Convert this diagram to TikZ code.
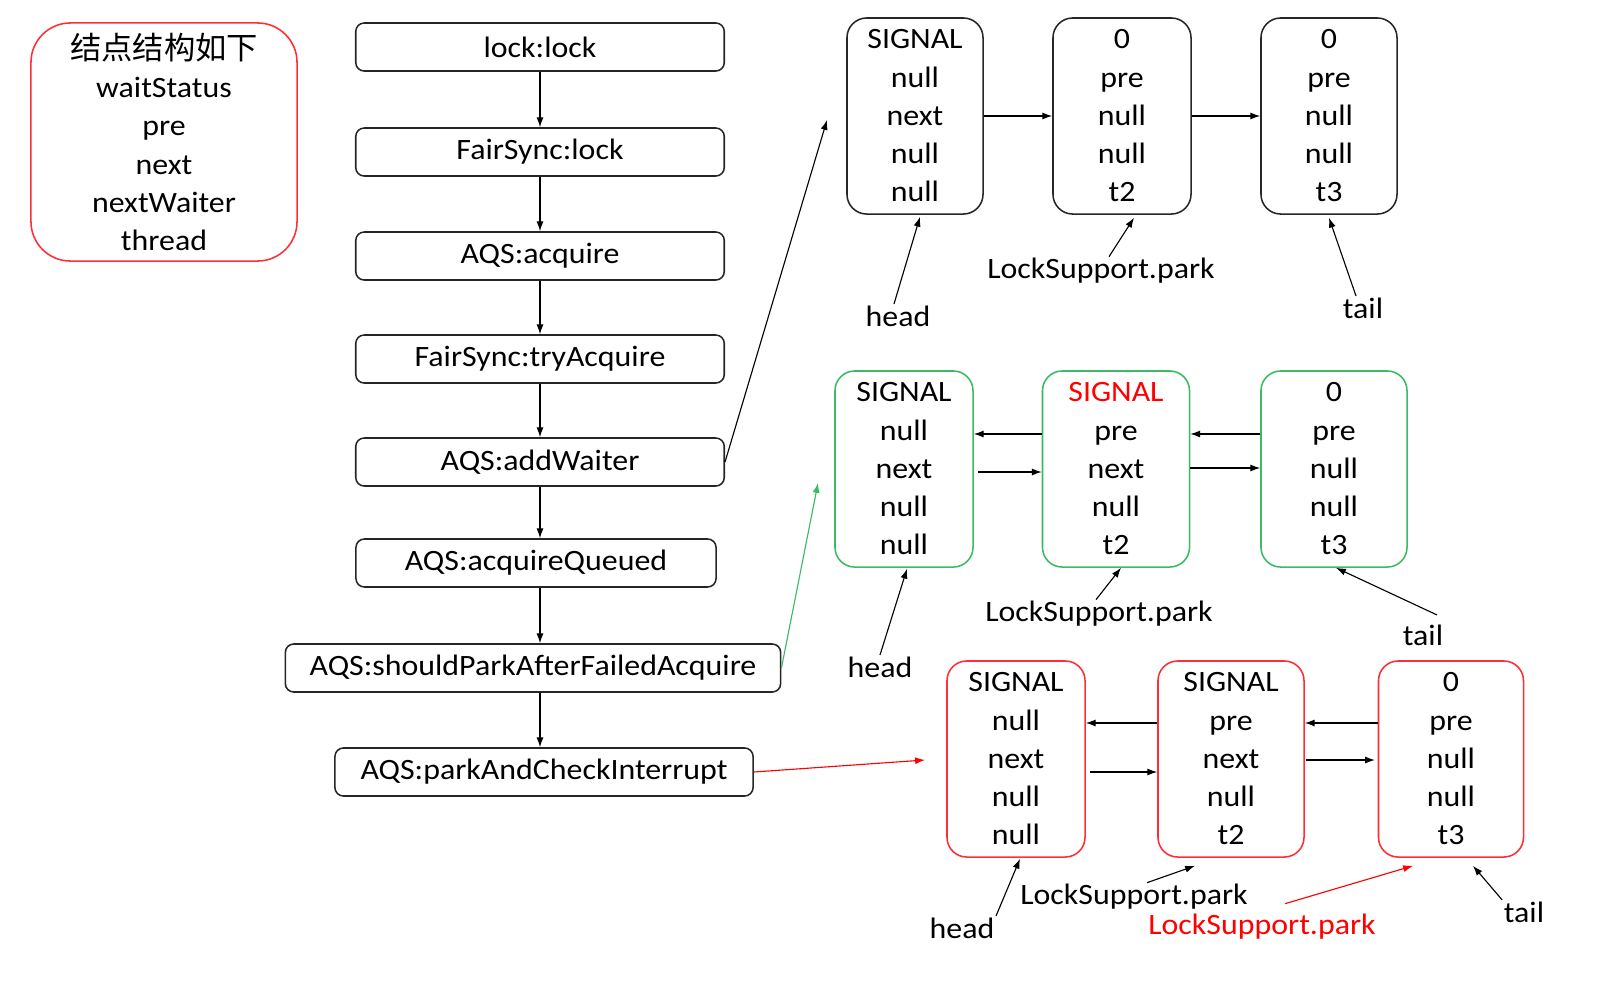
\documentclass[tikz,border=0pt]{standalone}
\usepackage{fontspec}
\setmainfont{Carlito}[FakeStretch=1.08]
\newfontfamily\cjk{Noto Sans CJK SC}[Scale=1.06]
\usepackage{tikz}
\usetikzlibrary{arrows.meta, positioning, calc}
\definecolor{qgreen}{RGB}{60,185,100}
\definecolor{qred}{RGB}{255,45,55}

\begin{document}
\begin{tikzpicture}[x=0.025cm, y=-0.025cm,
    every node/.style={font=\fontsize{21}{27.2}\selectfont},
    flowbox/.style={rectangle, draw=black!85, line width=1.1pt, rounded corners=6pt,
                minimum width=9.21cm, minimum height=1.2cm, inner sep=0pt},
    qnode/.style={rectangle, draw=black!85, line width=1.1pt, rounded corners=14pt,
                minimum width=3.4cm, minimum height=4.9cm, inner sep=0pt, align=center},
    lbl/.style={inner sep=1pt},
    arrow/.style={-{Latex[length=7pt, width=5pt]}, line width=0.8pt}]

\useasboundingbox (0,0) rectangle (1600,982);

\node[rectangle, draw=qred, line width=1.1pt, rounded corners=28pt, minimum width=6.65cm,
      minimum height=5.95cm, align=center] (legend) at (164,142)
      {{\cjk 结点结构如下}\\waitStatus\\pre\\next\\nextWaiter\\thread};

\node[flowbox] (lock) at (540,47) {lock:lock};
\node[flowbox] (fslock) at (540,152) {FairSync:lock};
\node[flowbox] (acq) at (540,256) {AQS:acquire};
\node[flowbox] (tryacq) at (540,359) {FairSync:tryAcquire};
\node[flowbox] (addw) at (540,462) {AQS:addWaiter};
\node[flowbox, minimum width=9.0cm] (acqq) at (536,563) {AQS:acquireQueued};
\node[flowbox, minimum width=12.38cm] (spark) at (533,668) {AQS:shouldParkAfterFailedAcquire};
\node[flowbox, minimum width=10.45cm] (pcheck) at (544,772) {AQS:parkAndCheckInterrupt};

\coordinate (spine) at (540,0);
\foreach \a/\b in {lock/fslock, fslock/acq, acq/tryacq, tryacq/addw, addw/acqq, acqq/spark, spark/pcheck}
  \draw[arrow] (spine |- \a.south) -- (spine |- \b.north);

\node[qnode] (t1) at (915,116) {SIGNAL\\null\\next\\null\\null};
\node[qnode, minimum width=3.45cm] (t2) at (1122,116) {0\\pre\\null\\null\\t2};
\node[qnode] (t3) at (1329,116) {0\\pre\\null\\null\\t3};

\node[qnode, draw=qgreen, minimum width=3.45cm] (m1) at (904,469) {SIGNAL\\null\\next\\null\\null};
\node[qnode, draw=qgreen, minimum width=3.675cm] (m2) at (1116,469) {\textcolor{red}{SIGNAL}\\pre\\next\\null\\t2};
\node[qnode, draw=qgreen, minimum width=3.65cm] (m3) at (1334,469) {0\\pre\\null\\null\\t3};

\node[qnode, draw=qred, minimum width=3.45cm] (b1) at (1016,759) {SIGNAL\\null\\next\\null\\null};
\node[qnode, draw=qred, minimum width=3.65cm] (b2) at (1231,759) {SIGNAL\\pre\\next\\null\\t2};
\node[qnode, draw=qred, minimum width=3.625cm] (b3) at (1451,759) {0\\pre\\null\\null\\t3};

\node[lbl] (thead) at (898,316) {head};
\node[lbl] (tpark) at (1101,271) {LockSupport.park};
\node[lbl] (ttail) at (1363,308) {tail};
\node[lbl] (mhead) at (880,667) {head};
\node[lbl] (mpark) at (1099,614) {LockSupport.park};
\node[lbl] (mtail) at (1423,635) {tail};
\node[lbl] (bhead) at (962,928) {head};
\node[lbl] (bpark) at (1134,897) {LockSupport.park};
\node[lbl, text=red] (bparkr) at (1262,927) {LockSupport.park};
\node[lbl] (btail) at (1524,912) {tail};

\draw[arrow] (t1.east) -- (t2.west);
\draw[arrow] (t2.east) -- (t3.west);

\draw[arrow] (m2.west |- 0,434) -- (m1.east |- 0,434);
\draw[arrow, shorten <=3pt] (m1.east |- 0,472) -- (m2.west |- 0,472);
\draw[arrow] (m3.west |- 0,434) -- (m2.east |- 0,434);
\draw[arrow] (m2.east |- 0,468) -- (m3.west |- 0,468);

\draw[arrow] (b2.west |- 0,723) -- (b1.east |- 0,723);
\draw[arrow, shorten <=3pt] (b1.east |- 0,772) -- (b2.west |- 0,772);
\draw[arrow] (b3.west |- 0,723) -- (b2.east |- 0,723);
\draw[arrow, shorten <=1pt, shorten >=2pt] (b2.east |- 0,760) -- (b3.west |- 0,760);

\coordinate (topin) at (827,120);
\coordinate (midin) at (818,483);
\coordinate (botin) at (925,760);
\draw[arrow] (addw.east) -- (topin);
\draw[arrow, qgreen] (spark.east) -- (midin);
\draw[arrow, red] (pcheck.east) -- (botin);

\draw[arrow] ($(thead.north)+(-4,0)$) -- ($(t1.south)+(5,2)$);
\draw[arrow] ($(tpark.north)+(8,0)$) -- ($(t2.south)+(12,3)$);
\draw[arrow] ($(ttail.north)+(-7,0)$) -- ($(t3.south)+(0,3)$);
\draw[arrow] (mhead.north) -- ($(m1.south)+(3,1)$);
\draw[arrow] ($(mpark.north)+(-3,0)$) -- ($(m2.south)+(5,0)$);
\draw[arrow] ($(mtail.north)+(14,-8)$) -- ($(m3.south)+(2,0)$);
\draw[arrow] (bhead.north east) -- ($(b1.south)+(4,1)$);
\draw[arrow] ($(bpark.north)+(13,0)$) -- ($(b2.south)+(-36,8)$);
\draw[arrow, red] ($(bparkr.north)+(23,-9)$) -- ($(b3.south)+(-38,8)$);
\draw[arrow] (btail.north west) -- ($(b3.south)+(22,8)$);
\end{tikzpicture}
\end{document}
